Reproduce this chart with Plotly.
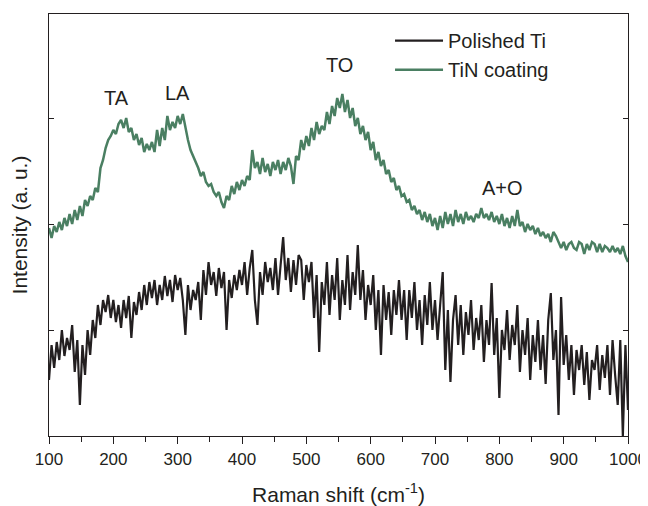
import plotly.graph_objects as go

# Raman shift grid (cm^-1), 4 cm^-1 steps
raman_shift = list(range(100, 1001, 4))

# Intensities (arbitrary counts)
tin_coating = [
    208, 198, 210, 204, 214, 206, 218, 210, 222, 212, 226, 216, 230, 220, 236, 230,
    240, 236, 248, 244, 268, 276, 288, 296, 300, 306, 302, 312, 316, 308, 318, 304,
    308, 296, 302, 291, 298, 284, 292, 286, 294, 284, 306, 290, 308, 296, 320, 306,
    314, 308, 320, 312, 322, 308, 296, 286, 280, 274, 268, 260, 264, 254, 250, 252,
    244, 240, 244, 234, 228, 240, 236, 250, 242, 254, 246, 256, 250, 260, 256, 286,
    268, 274, 262, 278, 264, 272, 260, 274, 266, 276, 262, 274, 266, 278, 270, 252,
    280, 276, 296, 286, 300, 290, 308, 296, 314, 302, 310, 306, 324, 312, 330, 320,
    338, 328, 342, 324, 336, 318, 328, 310, 318, 302, 310, 296, 304, 286, 294, 276,
    284, 270, 276, 262, 266, 254, 258, 246, 250, 240, 242, 234, 236, 226, 230, 222,
    226, 216, 224, 214, 222, 210, 218, 206, 220, 208, 224, 212, 222, 210, 226, 214,
    222, 212, 224, 216, 220, 214, 222, 218, 228, 218, 222, 216, 224, 214, 220, 212,
    222, 210, 218, 208, 220, 210, 226, 210, 214, 204, 212, 206, 210, 202, 208, 200,
    204, 198, 202, 194, 204, 200, 194, 188, 194, 186, 192, 194, 188, 186, 194, 192,
    182, 192, 186, 194, 192, 184, 192, 184, 190, 188, 184, 190, 184, 188, 182, 190,
    180, 174, 186, 184, 210,
]

polished_ti = [
    56, 91, 68, 94, 76, 106, 80, 98, 86, 111, 64, 96, 31, 91, 61, 106,
    81, 116, 98, 131, 111, 136, 124, 141, 118, 136, 114, 131, 108, 136, 118, 140,
    98, 134, 121, 144, 126, 151, 131, 154, 138, 156, 131, 151, 136, 160, 140, 156,
    134, 161, 146, 158, 136, 101, 151, 126, 146, 136, 154, 116, 166, 141, 174, 151,
    164, 140, 168, 148, 164, 106, 156, 138, 161, 146, 166, 151, 174, 141, 168, 186,
    136, 111, 164, 141, 174, 154, 168, 146, 178, 141, 171, 199, 156, 178, 144, 176,
    151, 181, 176, 136, 171, 154, 174, 118, 161, 84, 154, 131, 174, 121, 161, 136,
    178, 116, 156, 131, 181, 126, 164, 141, 191, 136, 166, 116, 151, 131, 161, 106,
    146, 81, 151, 116, 144, 101, 146, 121, 156, 116, 146, 96, 146, 118, 154, 106,
    136, 91, 141, 111, 154, 106, 136, 96, 131, 164, 66, 126, 54, 116, 141, 91,
    131, 81, 124, 101, 136, 86, 118, 96, 131, 74, 116, 91, 153, 81, 118, 38,
    106, 86, 126, 76, 111, 91, 131, 64, 106, 81, 118, 56, 101, 74, 116, 66,
    101, 52, 116, 143, 76, 106, 21, 139, 71, 101, 56, 91, 41, 86, 66, 91,
    51, 84, 36, 76, 66, 91, 46, 81, 58, 91, 41, 96, 61, 31, 96, 0,
    91, 26, 51,
]

tick_positions = [0, 106, 212, 318]

peak_labels = ["TA", "LA", "TO", "A+O"]
peak_x = [205, 300, 551, 805]
peak_y = [338, 343, 371, 248]

fig = go.Figure()
fig.add_trace(go.Scatter(
    x=raman_shift, y=polished_ti, mode="lines", name="Polished Ti",
    line=dict(color="#231f20", width=2.2),
))
fig.add_trace(go.Scatter(
    x=raman_shift, y=tin_coating, mode="lines", name="TiN coating",
    line=dict(color="#4a7f62", width=2.5),
))

for lab, xv, yv in zip(peak_labels, peak_x, peak_y):
    fig.add_annotation(x=xv, y=yv, text=lab, showarrow=False,
                       font=dict(size=20, color="#231f20"))

font_family = "Liberation Sans, Arial, sans-serif"
# the page body adds an 8 px offset, so the figure is 8 px smaller each way
fig.update_layout(
    width=640, height=498,
    margin=dict(l=41, r=20, t=6, b=70),
    paper_bgcolor="white", plot_bgcolor="white",
    font=dict(family=font_family, color="#231f20"),
    showlegend=True,
    legend=dict(x=0.589, y=0.983, xanchor="left", yanchor="top",
                font=dict(size=20, color="#231f20"), itemwidth=48,
                bgcolor="rgba(0,0,0,0)", tracegroupgap=0),
)
fig.update_xaxes(
    range=[100, 1000], tickmode="array",
    tickvals=[100, 200, 300, 400, 500, 600, 700, 800, 900, 1000],
    ticks="outside", ticklen=7, tickwidth=1, tickcolor="#231f20",
    minor=dict(tickvals=[150, 250, 350, 450, 550, 650, 750, 850, 950],
               ticks="outside", ticklen=5, tickcolor="#231f20", tickwidth=1),
    showline=True, linecolor="#231f20", linewidth=1.2, mirror=True,
    showgrid=False, zeroline=False, automargin=False,
    tickfont=dict(size=17, color="#231f20"),
    title=dict(text="Raman shift (cm<sup>-1</sup>)", font=dict(size=21), standoff=19),
)
fig.update_yaxes(
    range=[0, 422], tickmode="array", tickvals=tick_positions,
    ticks="inside", ticklen=5, tickwidth=1, tickcolor="#231f20",
    showticklabels=False,
    showline=True, linecolor="#231f20", linewidth=1.2, mirror="ticks",
    showgrid=False, zeroline=False, automargin=False,
    title=dict(text="Intensity (a. u.)", font=dict(size=21), standoff=18),
)

fig.write_html("out.html")
